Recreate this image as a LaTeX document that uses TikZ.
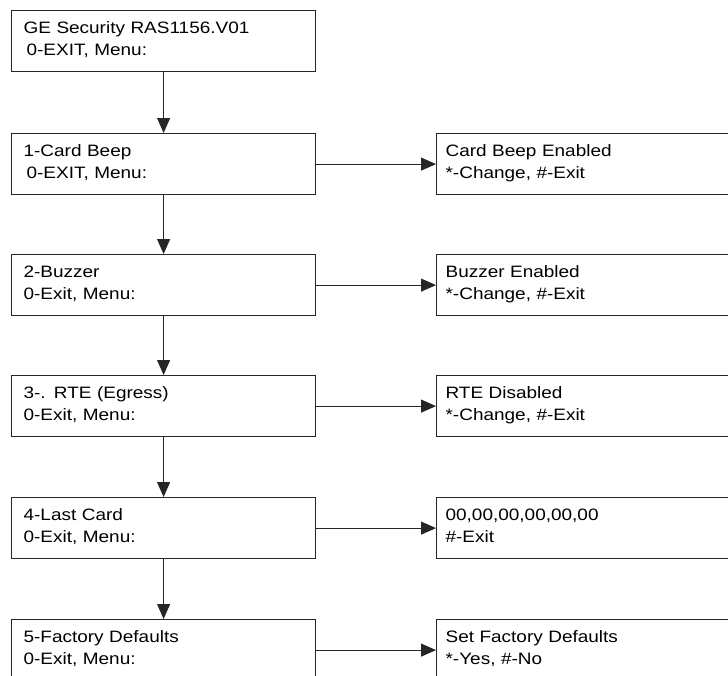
\documentclass[tikz,border=0pt]{standalone}
\usepackage{fontspec}
\setmainfont{Liberation Sans}[FakeStretch=1.15]
\usetikzlibrary{arrows.meta}
\tikzset{
  menubox/.style={draw=black!85, line width=1.2pt, rectangle, anchor=north west,
    minimum width=304pt, minimum height=61pt, inner xsep=12pt, inner ysep=0pt,
    text width=280pt, align=left, text height=22.7pt, text depth=38.3pt,
    font=\fontsize{16.5pt}{22.6pt}\selectfont},
  subbox/.style={menubox, minimum width=330pt, inner xsep=9pt, text width=312pt},
  flow/.style={draw=black!85, line width=0.9pt, -{Triangle[length=15pt,width=13pt]}}
}
\begin{document}
\begin{tikzpicture}[x=1pt,y=-1pt]
\useasboundingbox (0,0) rectangle (728,675);
\clip (0,0) rectangle (728,675);
\node[menubox] (m0) at (11,10) {GE Security RAS1156.V01\\\hspace*{3pt}0-EXIT, Menu:};
\node[menubox] (m1) at (11,133) {1-Card Beep\\\hspace*{3pt}0-EXIT, Menu:};
\node[menubox] (m2) at (11,254) {2-Buzzer\\0-Exit, Menu:};
\node[menubox] (m3) at (11,375) {3-. RTE (Egress)\\0-Exit, Menu:};
\node[menubox] (m4) at (11,497) {4-Last Card\\0-Exit, Menu:};
\node[menubox] (m5) at (11,619) {5-Factory Defaults\\0-Exit, Menu:};
\node[subbox] (s1) at (436,133) {Card Beep Enabled\\{*}-Change, \#-Exit};
\node[subbox] (s2) at (436,254) {Buzzer Enabled\\{*}-Change, \#-Exit};
\node[subbox] (s3) at (436,375) {RTE Disabled\\{*}-Change, \#-Exit};
\node[subbox] (s4) at (436,497) {00,00,00,00,00,00\\\#-Exit};
\node[subbox] (s5) at (436,619) {Set Factory Defaults\\{*}-Yes, \#-No};
\foreach \a/\b in {m0/m1,m1/m2,m2/m3,m3/m4,m4/m5}
  \draw[flow] (\a.south) -- (\b.north);
\foreach \i in {1,...,5}
  \draw[flow] (m\i.east) -- (s\i.west);
\end{tikzpicture}
\end{document}
